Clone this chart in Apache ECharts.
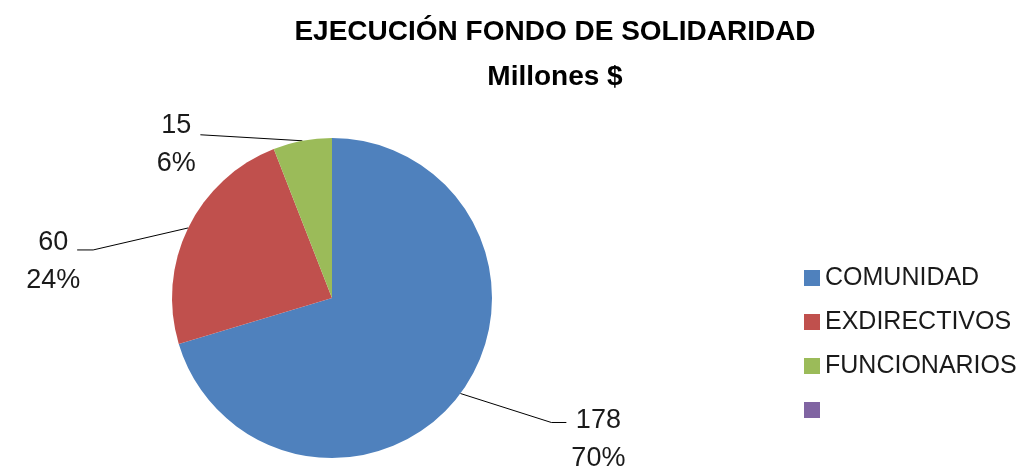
<!DOCTYPE html>
<html>
<head>
<meta charset="utf-8">
<script src="https://cdn.jsdelivr.net/npm/echarts@6/dist/echarts.min.js"></script>
<style>
  html, body { margin: 0; padding: 0; background: #fff; }
  #fondoChart { width: 1023px; height: 466px; }
</style>
</head>
<body>
<div id="fondoChart"></div>
<script>
// datos del grafico
var categorias = ['COMUNIDAD', 'EXDIRECTIVOS', 'FUNCIONARIOS', ' ']
var valores = [178, 60, 15, 0]
var colores = ['#4F81BD', '#C0504D', '#9BBB59', '#8064A2']

// desplazamiento de cada etiqueta respecto al borde de su porcion (x, y, altura de la linea)
var etiquetaDesplaz = [[138, 46, -17], [-135, 34, -12], [-126, 4, -10]]

var myChart = echarts.init(document.getElementById('fondoChart'))

var datos = categorias.map(function (nombre, i) {
    var item = { name: nombre, value: valores[i] }
    if (!valores[i]) {
        item.label = { show: false }
        item.labelLine = { show: false }
    }
    return item
})

var option = {
    animation: false,
    color: colores,
    title: {
        text: 'EJECUCIÓN FONDO DE SOLIDARIDAD\nMillones $',
        left: 550,
        textAlign: 'center',
        top: 5,
        textStyle: {
            fontFamily: 'Liberation Sans',
            fontWeight: 'bold',
            fontSize: 28,
            lineHeight: 45,
            color: '#000'
        }
    },
    legend: {
        orient: 'vertical',
        left: 799,
        top: 258,
        icon: 'rect',
        itemWidth: 16,
        itemHeight: 16,
        itemGap: 14,
        itemTextGap: 7,
        data: categorias,
        textStyle: {
            fontFamily: 'Liberation Sans',
            fontSize: 25,
            lineHeight: 30,
            color: '#1a1a1a'
        }
    },
    series: {
        name: 'Fondo',
        type: 'pie',
        radius: 160,
        center: [332, 298],
        startAngle: 90,
        clockwise: true,
        data: datos,
        label: {
            show: true,
            position: 'outside',
            fontFamily: 'Liberation Sans',
            fontSize: 27,
            lineHeight: 38,
            color: '#1a1a1a',
            align: 'center',
            formatter: function (p) {
                return p.value + '\n' + Math.round(p.percent) + '%'
            }
        },
        labelLine: {
            show: true,
            length: 20,
            length2: 20,
            lineStyle: { color: '#000', width: 1 }
        },
        labelLayout: function (params) {
            var d = etiquetaDesplaz[params.dataIndex]
            if (!d || !params.labelLinePoints) return {}
            var p0 = params.labelLinePoints[0]
            var cx = p0[0] + d[0]
            var cy = p0[1] + d[1]
            var w = params.labelRect.width
            var derecha = d[0] > 0
            var finY = cy + d[2]
            var finX = derecha ? cx - w / 2 - 5 : cx + 24
            var codoX = derecha ? finX - 15 : finX + 16
            if (params.dataIndex === 2) codoX = finX
            return {
                x: cx,
                y: cy,
                align: 'center',
                verticalAlign: 'middle',
                labelLinePoints: [[p0[0], p0[1]], [codoX, finY], [finX, finY]]
            }
        }
    }
}

myChart.setOption(option)
</script>
</body>
</html>
